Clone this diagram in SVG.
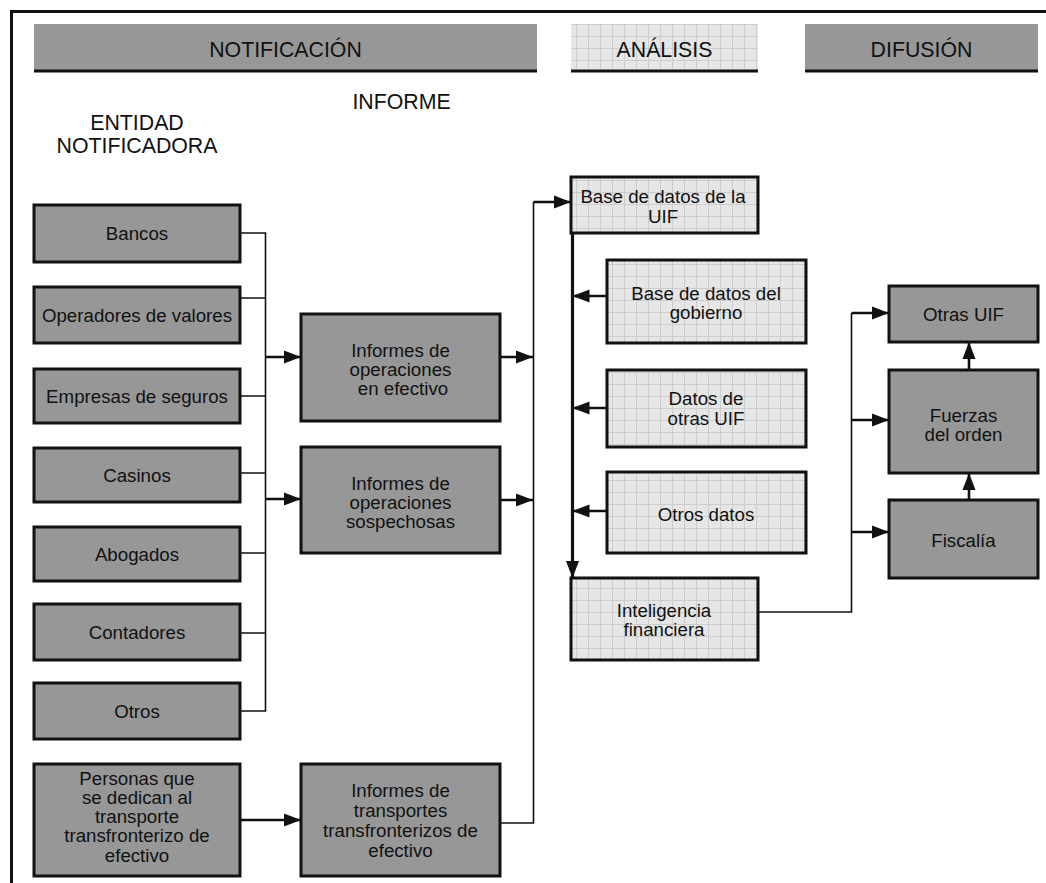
<svg xmlns="http://www.w3.org/2000/svg" width="1046" height="883" viewBox="0 0 1046 883">
<style>
text{font-family:"Liberation Sans",Arial,sans-serif;fill:#111;text-anchor:middle}
.h{font-size:21.3px}
.t{font-size:18.7px}
.g{fill:#979797;stroke:#111;stroke-width:3}
.p{fill:url(#grid);stroke:#111;stroke-width:3}
.thin{fill:none;stroke:#111;stroke-width:1.6}
.thick{fill:none;stroke:#111;stroke-width:2.6}
</style>
<defs>
<pattern id="grid" patternUnits="userSpaceOnUse" width="12" height="12">
<rect width="12" height="12" fill="#e6e6e6"/>
<path d="M0 0.5H12M0.5 0V12" stroke="#cdcdcd" stroke-width="1"/>
</pattern>
<marker id="ah" markerUnits="userSpaceOnUse" markerWidth="18" markerHeight="14" refX="17" refY="7" orient="auto">
<path d="M0 0.5L17 7L0 13.5Z" fill="#111"/>
</marker>
</defs>
<rect width="1046" height="883" fill="#fff"/>
<path d="M10 11.5H1046M11.5 10V883" stroke="#111" stroke-width="3" fill="none"/>

<g id="headers">
<rect x="34" y="24" width="503" height="47" fill="#979797"/>
<path d="M34 71H537" stroke="#111" stroke-width="3"/>
<text class="h" x="285.5" y="57">NOTIFICACIÓN</text>
<rect x="571" y="24" width="187" height="47" fill="url(#grid)"/>
<path d="M571 71H758" stroke="#111" stroke-width="3"/>
<text class="h" x="664.5" y="57">ANÁLISIS</text>
<rect x="805" y="24" width="233" height="47" fill="#979797"/>
<path d="M805 71H1038" stroke="#111" stroke-width="3"/>
<text class="h" x="921.5" y="57">DIFUSIÓN</text>
<text class="h" x="401.5" y="109">INFORME</text>
<text class="h" x="137" y="130">ENTIDAD</text>
<text class="h" x="137" y="153">NOTIFICADORA</text>
</g>

<g id="connectors">
<path class="thin" d="M240 233H265.5V711H240M240 298H265.5M240 396H265.5M240 473H265.5M240 553H265.5M240 633H265.5"/>
<path class="thick" d="M265.5 357H301" marker-end="url(#ah)"/>
<path class="thick" d="M265.5 499H301" marker-end="url(#ah)"/>
<path class="thick" d="M500 357H533" marker-end="url(#ah)"/>
<path class="thick" d="M500 500H533" marker-end="url(#ah)"/>
<path class="thin" d="M500 823H533.5V202"/>
<path class="thick" d="M533.5 202H571" marker-end="url(#ah)"/>
<path class="thick" d="M240 820H301" marker-end="url(#ah)"/>
<path stroke="#111" stroke-width="3.2" fill="none" d="M572.5 233V578" marker-end="url(#ah)"/>
<path class="thick" d="M607 296H572.5" marker-end="url(#ah)"/>
<path class="thick" d="M607 408H572.5" marker-end="url(#ah)"/>
<path class="thick" d="M607 511H572.5" marker-end="url(#ah)"/>
<path class="thin" d="M758 612H851.5V313"/>
<path class="thick" d="M851.5 313H889" marker-end="url(#ah)"/>
<path class="thick" d="M851.5 420H889" marker-end="url(#ah)"/>
<path class="thick" d="M851.5 532H889" marker-end="url(#ah)"/>
<path class="thick" d="M969 370V342" marker-end="url(#ah)"/>
<path class="thick" d="M969 500V473" marker-end="url(#ah)"/>
</g>

<g id="bancos"><rect class="g" x="34" y="205" width="206" height="57"/><text class="t" x="137" y="240">Bancos</text></g>
<g id="operadores"><rect class="g" x="34" y="287" width="206" height="56"/><text class="t" x="137" y="322">Operadores de valores</text></g>
<g id="empresas"><rect class="g" x="34" y="369" width="206" height="54"/><text class="t" x="137" y="403">Empresas de seguros</text></g>
<g id="casinos"><rect class="g" x="34" y="448" width="206" height="54"/><text class="t" x="137" y="482">Casinos</text></g>
<g id="abogados"><rect class="g" x="34" y="527" width="206" height="54"/><text class="t" x="137" y="561">Abogados</text></g>
<g id="contadores"><rect class="g" x="34" y="604" width="206" height="56"/><text class="t" x="137" y="639">Contadores</text></g>
<g id="otros"><rect class="g" x="34" y="683" width="206" height="56"/><text class="t" x="137" y="718">Otros</text></g>
<g id="personas"><rect class="g" x="34" y="764" width="206" height="112"/>
<text class="t" x="137" y="785">Personas que</text><text class="t" x="137" y="804">se dedican al</text><text class="t" x="137" y="823">transporte</text><text class="t" x="137" y="842">transfronterizo de</text><text class="t" x="137" y="862">efectivo</text></g>

<g id="efectivo"><rect class="g" x="301" y="314" width="199" height="107"/>
<text class="t" x="400.5" y="357">Informes de</text><text class="t" x="400.5" y="376">operaciones</text><text class="t" x="403" y="395">en efectivo</text></g>
<g id="sospechosas"><rect class="g" x="301" y="447" width="199" height="106"/>
<text class="t" x="400.5" y="490">Informes de</text><text class="t" x="400.5" y="509">operaciones</text><text class="t" x="400.5" y="528">sospechosas</text></g>
<g id="transportes"><rect class="g" x="301" y="764" width="199" height="112"/>
<text class="t" x="400.5" y="797">Informes de</text><text class="t" x="400.5" y="817">transportes</text><text class="t" x="400.5" y="837">transfronterizos de</text><text class="t" x="400.5" y="857">efectivo</text></g>

<g id="base-uif"><rect class="p" x="571" y="177" width="187" height="56"/>
<text class="t" x="663" y="203">Base de datos de la</text><text class="t" x="663" y="223">UIF</text></g>
<g id="gobierno"><rect class="p" x="607" y="260" width="199" height="83"/>
<text class="t" x="706" y="300">Base de datos del</text><text class="t" x="706" y="319">gobierno</text></g>
<g id="otras-uif-datos"><rect class="p" x="607" y="370" width="199" height="77"/>
<text class="t" x="706" y="405">Datos de</text><text class="t" x="706" y="425">otras UIF</text></g>
<g id="otros-datos"><rect class="p" x="607" y="472" width="199" height="81"/>
<text class="t" x="706" y="521">Otros datos</text></g>
<g id="inteligencia"><rect class="p" x="571" y="578" width="187" height="82"/>
<text class="t" x="664" y="617">Inteligencia</text><text class="t" x="664" y="636">financiera</text></g>

<g id="otras-uif"><rect class="g" x="889" y="286" width="149" height="56"/><text class="t" x="963.5" y="321">Otras UIF</text></g>
<g id="fuerzas"><rect class="g" x="889" y="370" width="149" height="103"/>
<text class="t" x="963.5" y="422">Fuerzas</text><text class="t" x="963.5" y="441">del orden</text></g>
<g id="fiscalia"><rect class="g" x="889" y="500" width="149" height="78"/><text class="t" x="963.5" y="547">Fiscalía</text></g>
</svg>
